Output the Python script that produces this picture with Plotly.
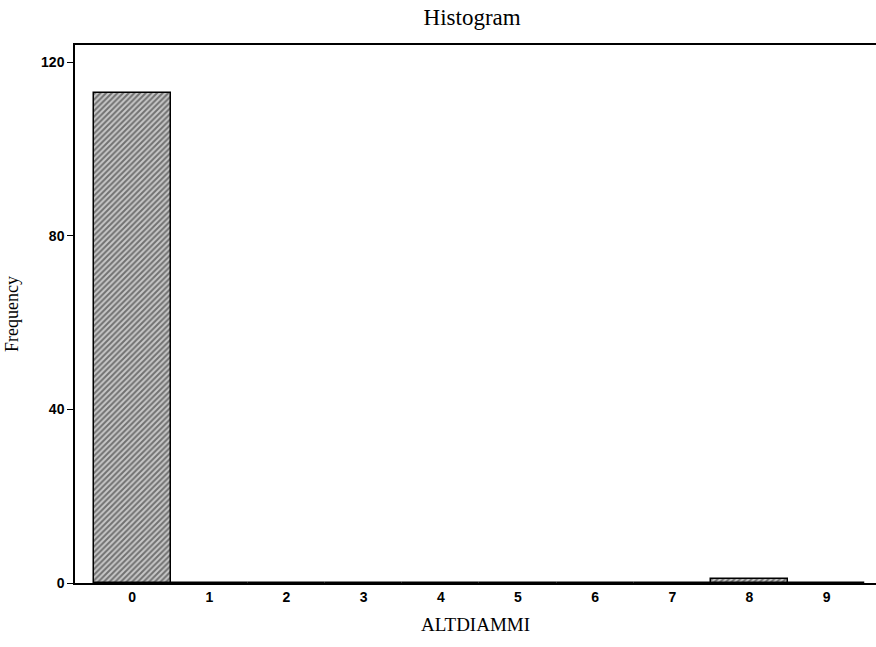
import plotly.graph_objects as go

categories = [0, 1, 2, 3, 4, 5, 6, 7, 8, 9]
frequency = [113, 0, 0, 0, 0, 0, 0, 0, 1, 0]
y_ticks = [0, 40, 80, 120]

fig = go.Figure()
fig.add_trace(go.Bar(
    x=categories, y=frequency, width=1.0,
    marker=dict(color="#9a9a9a", line=dict(color="black", width=1.5),
                pattern=dict(shape="/", fgcolor="#1a1a1a", bgcolor="#c8c8c8", size=4, solidity=0.5)),
    showlegend=False,
))

fig.update_layout(
    width=876, height=647,
    margin=dict(l=75, r=0, t=45, b=64),
    paper_bgcolor="white", plot_bgcolor="white",
    title=dict(text="Histogram", x=0.539, xanchor="center", y=0.974, yanchor="middle",
               font=dict(family="Liberation Serif", size=23, color="black")),
    bargap=0,
)
fig.update_xaxes(
    range=[-0.74, 9.64], tickvals=categories, ticktext=[str(c) for c in categories],
    showline=True, linecolor="black", linewidth=1.5, mirror=True,
    ticks="", showgrid=False, zeroline=False,
    tickfont=dict(family="Liberation Sans", size=14, color="black", weight="bold"),
    title=dict(text="ALTDIAMMI", font=dict(family="Liberation Serif", size=19, color="black"), standoff=14),
)
fig.update_yaxes(
    range=[0, 124], tickvals=y_ticks,
    showline=True, linecolor="black", linewidth=1.5,
    ticks="outside", ticklen=6, tickcolor="black", showgrid=False, zeroline=False,
    tickfont=dict(family="Liberation Sans", size=14, color="black", weight="bold"),
    title=dict(text="Frequency", font=dict(family="Liberation Serif", size=18, color="black"), standoff=18),
)

fig.write_html("out.html", config={"displayModeBar": False},
               post_script="document.body.style.margin='0px';")
